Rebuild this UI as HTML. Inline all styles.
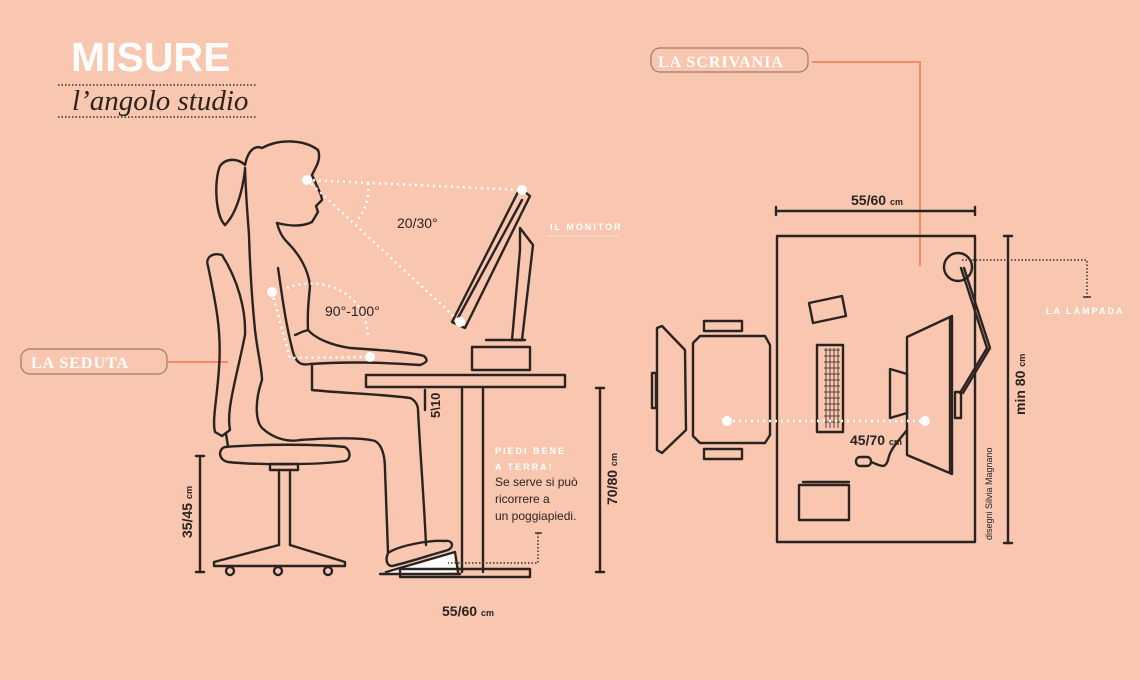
<!DOCTYPE html>
<html><head><meta charset="utf-8"><style>
html,body{margin:0;padding:0;background:#f9c6b0;}
svg{display:block;}
.l{fill:none;stroke:#2b2320;stroke-width:2.4;stroke-linejoin:round;stroke-linecap:round;}
.t{font-family:"Liberation Sans",sans-serif;fill:#2b2320;}
.w{font-family:"Liberation Sans",sans-serif;fill:#fff;font-weight:bold;letter-spacing:2px;}
.d{fill:none;stroke:#fff;stroke-width:2.5;stroke-dasharray:2 4;}
.k{fill:none;stroke:#3a302b;stroke-width:1.5;stroke-dasharray:1.5 2;}
</style></head><body>
<svg width="1140" height="680" viewBox="0 0 1140 680" xmlns="http://www.w3.org/2000/svg">
<rect width="1140" height="680" fill="#f9c6b0"/>
<!-- title -->
<text x="71" y="71" font-family="Liberation Sans,sans-serif" font-weight="bold" font-size="41" fill="#fff">MISURE</text>
<line x1="58" y1="85" x2="257" y2="85" class="k"/>
<text x="72" y="110" font-family="Liberation Serif,serif" font-style="italic" font-size="29" fill="#2b2320">l’angolo studio</text>
<line x1="58" y1="117" x2="257" y2="117" class="k"/>
<!-- pills -->
<rect x="651" y="48" width="157" height="24" rx="9" fill="none" stroke="#9a7a6c" stroke-width="1.2"/>
<text x="658" y="67" font-family="Liberation Serif,serif" font-weight="bold" font-size="16" fill="#fff" letter-spacing="1">LA SCRIVANIA</text>
<polyline points="812,62 920,62 920,266" fill="none" stroke="#f28c68" stroke-width="2"/>
<rect x="21" y="349" width="146" height="25" rx="9" fill="none" stroke="#9a7a6c" stroke-width="1.2"/>
<text x="31" y="368" font-family="Liberation Serif,serif" font-weight="bold" font-size="16" fill="#fff" letter-spacing="1">LA SEDUTA</text>
<line x1="168" y1="362" x2="228" y2="362" stroke="#f28c68" stroke-width="2"/>
<text x="550" y="230" class="w" font-size="9">IL MONITOR</text>
<line x1="548" y1="236" x2="620" y2="236" stroke="#fff" stroke-width="1" stroke-dasharray="1 2"/>
<!-- chair side -->
<path class="l" d="M222,255 C212,252 205,258 208,266 C215,300 222,330 219,368 C217,400 212,420 215,432 L222,436 L230,430 C226,410 236,380 245,335 C246,310 238,280 222,255 Z"/>
<line class="l" x1="226" y1="434" x2="228" y2="446"/>
<path class="l" d="M225,447 C260,444 320,444 345,447 C352,452 350,460 345,461 C320,465 255,465 228,462 C218,460 218,449 225,447 Z"/>
<rect class="l" x="270" y="464" width="28" height="6"/>
<line class="l" x1="279" y1="470" x2="279" y2="545"/><line class="l" x1="290" y1="470" x2="290" y2="545"/>
<path class="l" d="M279,545 L214,562 L214,566 L345,566 L345,562 L290,545"/>
<circle class="l" cx="230" cy="571" r="4"/><circle class="l" cx="278" cy="571" r="4"/><circle class="l" cx="328" cy="571" r="4"/>
<!-- person -->
<path class="l" d="M225,225 C215,215 214,180 220,166 C226,158 238,158 245,165 C248,150 255,145 262,148 C280,138 305,140 318,150 C322,160 314,170 312,175 C316,185 322,195 322,200 L316,206 L318,212 L312,222 C300,228 285,225 277,223"/>
<path class="l" d="M225,225 C235,215 242,195 245,170"/>
<path class="l" d="M245,168 C246,200 248,220 249,235 C250,270 252,300 255,330 C258,355 262,370 262,380 C255,400 255,420 262,428 C275,440 290,442 300,440 C330,438 360,437 375,441 C382,445 385,455 385,470 C386,500 387,530 388,552"/>
<path class="l" d="M277,223 C280,235 285,240 288,243 C300,255 308,270 310,285 C309,300 307,310 308,330"/>
<path class="l" d="M278,268 C282,295 285,320 292,348 C295,362 300,366 310,364 C340,362 380,362 420,365 C428,362 428,360 424,356 C410,352 380,350 350,348 C330,345 315,338 308,330 C300,332 296,335 295,335"/>
<path class="l" d="M312,366 L312,390 C340,393 380,394 410,398 C415,400 418,405 418,410 C420,450 424,500 426,545"/>
<path d="M386,570 L455,552 L458,572 L388,575 Z" fill="#fff"/>
<path class="l" d="M388,553 C385,560 387,566 392,566 C410,562 430,555 448,550 C455,546 452,540 445,541 C430,540 400,545 388,553 Z"/>
<path class="l" d="M386,572 L455,552 L458,572" stroke-width="1.8"/>
<line class="l" x1="380" y1="574" x2="460" y2="574"/>
<!-- desk side -->
<rect class="l" x="366" y="375" width="199" height="12"/>
<line class="l" x1="462" y1="387" x2="462" y2="572"/><line class="l" x1="483" y1="387" x2="483" y2="572"/>
<rect class="l" x="400" y="569" width="130" height="8"/>
<line class="l" x1="425" y1="390" x2="425" y2="410" stroke-width="1.5"/>
<text class="t" font-size="13" font-weight="bold" transform="translate(440,418) rotate(-90)">5\10</text>
<!-- monitor side -->
<path class="l" d="M520,188 L530,196 L465,328 L452,322 Z M522,200 L458,318"/>
<path class="l" d="M520,228 L533,245 L522,340 L512,340 L520,250 Z"/>
<rect class="l" x="472" y="347" width="58" height="23"/>
<line class="l" x1="486" y1="340" x2="525" y2="340"/>
<!-- angles -->
<line class="d" x1="307" y1="180" x2="522" y2="190"/>
<line class="d" x1="307" y1="180" x2="460" y2="322"/>
<path class="d" d="M368,183 C370,195 366,210 356,222"/>
<circle cx="307" cy="180" r="5" fill="#fff"/><circle cx="522" cy="190" r="5" fill="#fff"/><circle cx="460" cy="322" r="5" fill="#fff"/>
<text class="t" x="397" y="228" font-size="14">20/30°</text>
<polyline class="d" points="272,292 290,358 370,357"/>
<path class="d" d="M287,288 C320,275 365,290 368,335"/>
<circle cx="272" cy="292" r="5" fill="#fff"/><circle cx="370" cy="357" r="5" fill="#fff"/>
<text class="t" x="325" y="316" font-size="14">90°-100°</text>
<!-- dims left -->
<line class="l" x1="200" y1="456" x2="200" y2="572" stroke-width="1.5"/>
<line class="l" x1="196" y1="456" x2="204" y2="456" stroke-width="1.5"/><line class="l" x1="196" y1="572" x2="204" y2="572" stroke-width="1.5"/>
<text class="t" font-size="14" font-weight="bold" transform="translate(192,538) rotate(-90)">35/45 <tspan font-size="9">cm</tspan></text>
<line class="l" x1="600" y1="388" x2="600" y2="572" stroke-width="1.5"/>
<line class="l" x1="596" y1="388" x2="604" y2="388" stroke-width="1.5"/><line class="l" x1="596" y1="572" x2="604" y2="572" stroke-width="1.5"/>
<text class="t" font-size="14" font-weight="bold" transform="translate(617,505) rotate(-90)">70/80 <tspan font-size="9">cm</tspan></text>
<text class="t" x="442" y="616" font-size="14" font-weight="bold">55/60 <tspan font-size="9">cm</tspan></text>
<text class="w" x="495" y="454" font-size="9">PIEDI BENE</text>
<text class="w" x="495" y="470" font-size="9">A TERRA!</text>
<text class="t" x="495" y="486" font-size="12">Se serve si può</text>
<text class="t" x="495" y="503" font-size="12">ricorrere a</text>
<text class="t" x="495" y="520" font-size="12">un poggiapiedi.</text>
<polyline class="k" points="538,533 538,563 448,563"/><line x1="535" y1="533" x2="542" y2="533" stroke="#3a302b" stroke-width="1.5"/>
<!-- top view -->
<line class="l" x1="776" y1="211" x2="975" y2="211" stroke-width="1.5"/>
<line class="l" x1="776" y1="207" x2="776" y2="215" stroke-width="1.5"/><line class="l" x1="975" y1="207" x2="975" y2="215" stroke-width="1.5"/>
<text class="t" x="851" y="205" font-size="14" font-weight="bold">55/60 <tspan font-size="9">cm</tspan></text>
<rect class="l" x="777" y="236" width="198" height="306"/>
<line class="l" x1="1008" y1="236" x2="1008" y2="543" stroke-width="1.5"/>
<line class="l" x1="1004" y1="236" x2="1012" y2="236" stroke-width="1.5"/><line class="l" x1="1004" y1="543" x2="1012" y2="543" stroke-width="1.5"/>
<text class="t" font-size="14" font-weight="bold" transform="translate(1025,415) rotate(-90)">min 80 <tspan font-size="9">cm</tspan></text>
<text class="t" font-size="9" transform="translate(992,540) rotate(-90)">disegni Silvia Magnano</text>
<!-- chair top -->
<path class="l" d="M657,328 L662,326 L685,350 L686,430 L662,453 L657,450 Z"/>
<rect class="l" x="652" y="373" width="4" height="35"/>
<path class="l" d="M700,336 L765,336 L770,345 L770,435 L765,443 L700,443 L693,436 L693,343 Z"/>
<rect class="l" x="704" y="321" width="38" height="10"/><rect class="l" x="704" y="449" width="38" height="10"/>
<!-- lamp -->
<circle class="l" cx="958" cy="267" r="14"/>
<path class="l" d="M961,268 L987,348 L960,393 M964,268 L990,348 L963,393" stroke-width="1.6"/>
<rect class="l" x="955" y="392" width="6" height="26" stroke-width="1.6"/>
<polyline class="k" points="962,260 1087,260 1087,297"/><line x1="1083" y1="297" x2="1091" y2="297" stroke="#3a302b" stroke-width="1.5"/>
<text class="w" x="1046" y="314" font-size="9">LA LAMPADA</text>
<!-- items -->
<path class="l" d="M809,303 L842,296 L846,316 L813,323 Z" stroke-width="1.8"/>
<rect class="l" x="817" y="345" width="26" height="87" stroke-width="1.8"/>
<path d="M824,350 h16 M824,356 h16 M824,362 h16 M824,368 h16 M824,374 h16 M824,380 h16 M824,386 h16 M824,392 h16 M824,398 h16 M824,404 h16 M824,410 h16 M824,416 h16 M824,422 h16 M826,348 v80 M830,348 v80 M834,348 v80 M838,348 v80" stroke="#2b2320" stroke-width="0.8"/>
<path class="l" d="M907,337 L952,316 L952,474 L907,455 Z"/>
<line class="l" x1="950" y1="318" x2="950" y2="473" stroke-width="1.5"/>
<path class="l" d="M890,369 L907,374 L907,413 L890,418 Z"/>
<rect class="l" x="856" y="457" width="15" height="9" rx="4" stroke-width="1.6"/>
<path class="l" d="M871,462 C880,465 885,470 888,460 C890,450 895,445 907,430" stroke-width="1.4"/>
<rect class="l" x="799" y="485" width="50" height="35" stroke-width="1.8"/>
<line class="l" x1="803" y1="482" x2="849" y2="482" stroke-width="1.5"/>
<line class="d" x1="727" y1="421" x2="925" y2="421"/>
<circle cx="727" cy="421" r="5" fill="#fff"/><circle cx="925" cy="421" r="5" fill="#fff"/>
<text class="t" x="850" y="445" font-size="14" font-weight="bold">45/70 <tspan font-size="9">cm</tspan></text>
</svg>
</body></html>
